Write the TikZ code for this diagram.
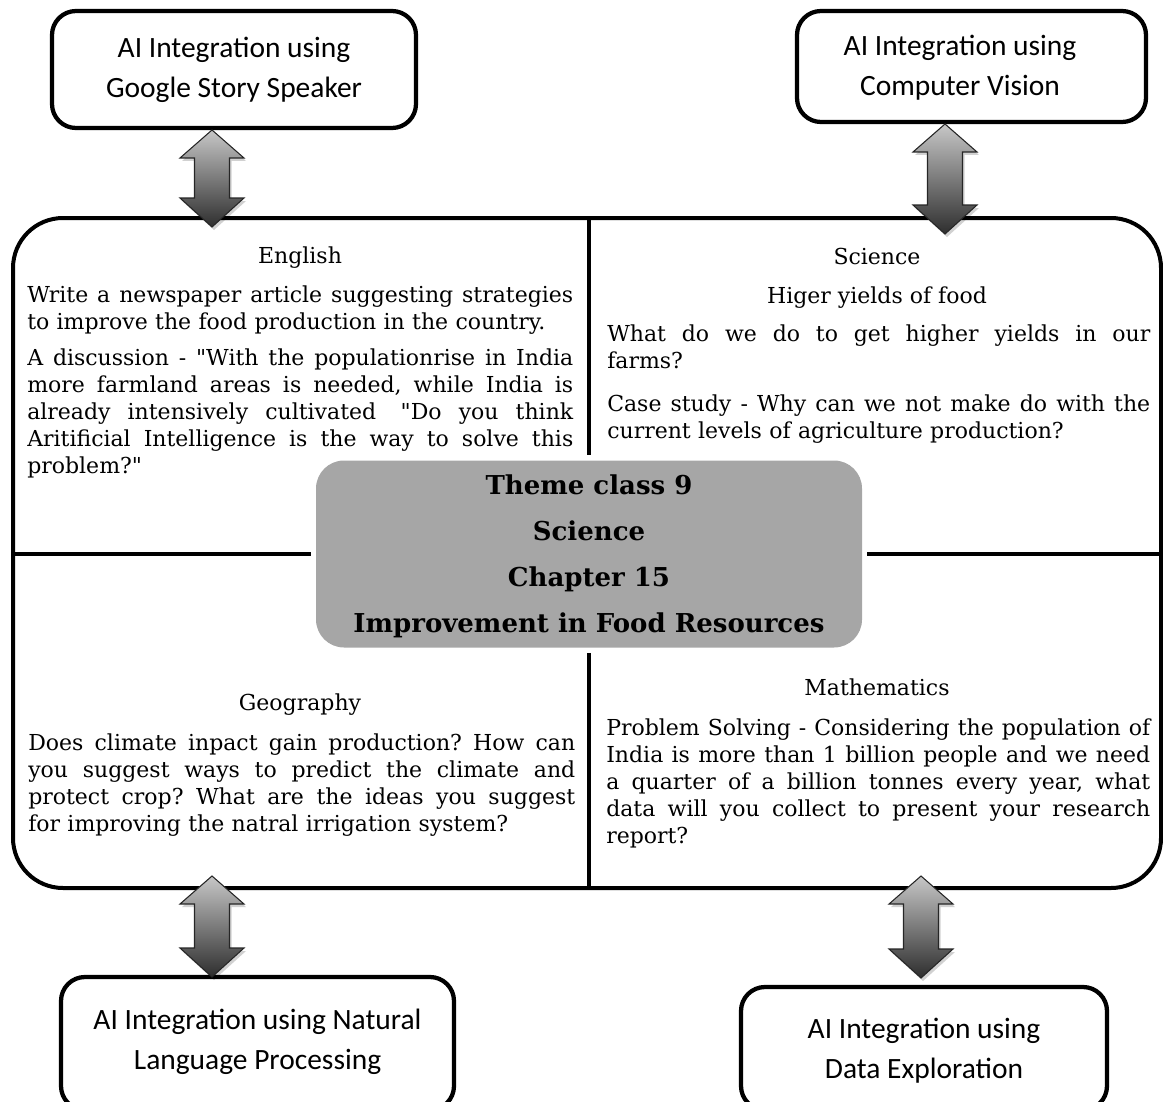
\documentclass[tikz,border=0pt]{standalone}
\usepackage{fontspec}
\newfontfamily\bodyserif{DejaVu Serif}
\newfontfamily\boxfamily{Carlito}
\usetikzlibrary{calc}
\setlength{\parindent}{0pt}
\setlength{\parskip}{0pt}
\frenchspacing
\definecolor{themegray}{HTML}{A6A6A6}

% fonts
\newcommand{\bodyfont}{\bodyserif\fontsize{16.5pt}{20.25pt}\selectfont}
\newcommand{\themefont}{\bodyserif\bfseries\fontsize{19.5pt}{34.5pt}\selectfont}
\newcommand{\aifont}{\boxfamily\fontsize{22.1pt}{30pt}\selectfont}

% width of the current text block
\newlength{\bodyw}
\newcommand{\wordgap}{\hskip 0.318em plus 1fil\relax}

% a justified line (word gaps stretched to the block width) and a closing line
\ExplSyntaxOn
\seq_new:N \l_jl_words_seq
\NewDocumentCommand{\jl}{m}{
  \seq_set_split:Nnn \l_jl_words_seq {~} {#1}
  \hbox_to_wd:nn {\bodyw} { \strut \seq_use:Nn \l_jl_words_seq {\wordgap} }
  \par
}
\ExplSyntaxOff
\newcommand{\lastl}[1]{\hbox to \bodyw{\strut #1\hfil}\par}

% vertical double-headed block arrow: centre x, top tip y, bottom tip y
\newcommand{\blockarrow}[3]{%
  \fill[black,opacity=0.18,xshift=1.5pt,yshift=-2.25pt]
    (#1,#2) -- ({#1+32},{#2+28}) -- ({#1+17.5},{#2+28}) -- ({#1+17.5},{#3-29})
    -- ({#1+32},{#3-29}) -- (#1,#3) -- ({#1-32},{#3-29}) -- ({#1-17.5},{#3-29})
    -- ({#1-17.5},{#2+28}) -- ({#1-32},{#2+28}) -- cycle;
  \shadedraw[top color=black!22,bottom color=black!82,draw=black!85,line width=0.8pt]
    (#1,#2) -- ({#1+32},{#2+28}) -- ({#1+17.5},{#2+28}) -- ({#1+17.5},{#3-29})
    -- ({#1+32},{#3-29}) -- (#1,#3) -- ({#1-32},{#3-29}) -- ({#1-17.5},{#3-29})
    -- ({#1-17.5},{#2+28}) -- ({#1-32},{#2+28}) -- cycle;}

\begin{document}
\begin{tikzpicture}[x=0.75pt,y=-0.75pt,
  divider/.style={line width=3pt},
  aibox/.style={draw,line width=3.2pt,rounded corners=18pt,inner sep=0pt},
  aitext/.style={font=\aifont,align=center,inner sep=0pt},
  body/.style={anchor=north west,inner sep=0pt,text width=#1,font=\bodyfont,
    execute at begin node={\setlength{\bodyw}{#1}}},
  heading/.style={anchor=base,inner sep=0pt,font=\bodyfont},
  themebox/.style={fill=themegray,rounded corners=21pt,inner sep=0pt,align=center,
    font=\themefont,minimum width=409.5pt,minimum height=140.25pt}]

\useasboundingbox (0,0) rectangle (1163,1102);
\clip (0,0) rectangle (1163,1102);

% outer panel with its four quadrants
\node[draw,line width=3pt,rounded corners=37.5pt,minimum width=861pt,
  minimum height=502.5pt,inner sep=0pt] (panel) at (587,553) {};
\node[themebox] (theme) at (589,554) {\strut Theme class 9\\\strut Science\\\strut Chapter 15\\\strut Improvement in Food Resources};
\draw[divider] (theme.north |- panel.north) -- ([yshift=3.75pt]theme.north);
\draw[divider] ([yshift=-3.75pt]theme.south) -- (theme.south |- panel.south);
\draw[divider] (panel.west |- theme.west) -- ([xshift=-3.75pt]theme.west);
\draw[divider] ([xshift=3.75pt]theme.east) -- (panel.east |- theme.east);

% English
\node[heading] (engh) at (300,263) {English};
\node[body=409.5pt] (eng1) at (27,283.1) {%
  \jl{Write a newspaper article suggesting strategies}
  \lastl{to improve the food production in the country.}};
\node[body=409.5pt] (eng2) at (27,346.1) {%
  \jl{A discussion - "With the populationrise in India}
  \jl{more farmland areas is needed, while India is}
  \jl{already intensively cultivated \ "Do you think}
  \jl{Aritificial Intelligence is the way to solve this}
  \lastl{problem?"}};

% Science
\node[heading] (scih) at (877,264) {Science};
\node[heading] (scis) at (877,303) {Higer yields of food};
\node[body=407.25pt] (sci1) at (607,322.1) {%
  \jl{What do we do to get higher yields in our}
  \lastl{farms?}};
\node[body=407.25pt] (sci2) at (607,392.1) {%
  \jl{Case study - Why can we not make do with the}
  \lastl{current levels of agriculture production?}};

% Geography
\node[heading] (geoh) at (300,710) {Geography};
\node[body=410.25pt] (geo1) at (28,731.1) {%
  \jl{Does climate inpact gain production? How can}
  \jl{you suggest ways to predict the climate and}
  \jl{protect crop? What are the ideas you suggest}
  \lastl{for improving the natral irrigation system?}};

% Mathematics
\node[heading] (mathh) at (877,695) {Mathematics};
\node[body=408pt] (math1) at (606,716.1) {%
  \jl{Problem Solving - Considering the population of}
  \jl{India is more than 1 billion people and we need}
  \jl{a quarter of a billion tonnes every year, what}
  \jl{data will you collect to present your research}
  \lastl{report?}};

% AI integration boxes
\node[aibox,minimum width=273pt,minimum height=87.75pt] (gss) at (234,69.5) {};
\node[aitext] (gsst) at (234,70) {\strut AI Integration using\\\strut Google Story Speaker};
\node[aibox,minimum width=261.75pt,minimum height=83.25pt] (cv) at (971.5,66.5) {};
\node[aitext] (cvt) at (960,68) {\strut AI Integration using\\\strut Computer Vision};
\node[aibox,minimum width=294.75pt,minimum height=99.75pt] (nlp) at (257.5,1043.5) {};
\node[aitext] (nlpt) at (257.5,1041) {\strut AI Integration using Natural\\\strut Language Processing};
\node[aibox,minimum width=274.5pt,minimum height=92.25pt] (de) at (924,1048.5) {};
\node[aitext] (det) at (924,1050) {\strut AI Integration using\\\strut Data Exploration};

% two-way links between boxes and the panel
\blockarrow{212}{130}{227}
\blockarrow{945}{124}{234}
\blockarrow{212}{876}{977}
\blockarrow{921}{876}{978}
\end{tikzpicture}
\end{document}
